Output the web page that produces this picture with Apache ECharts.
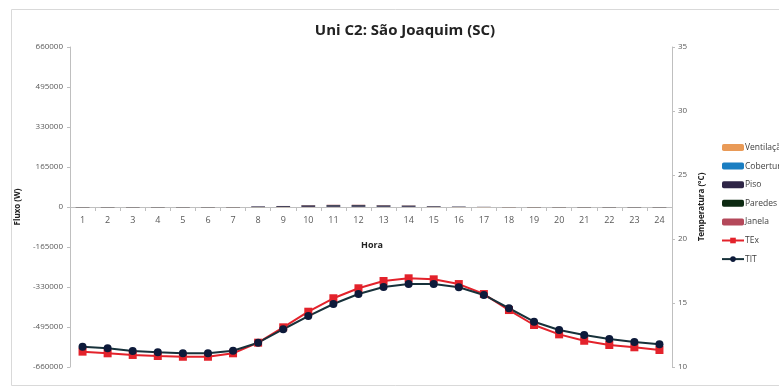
<!DOCTYPE html>
<html>
<head>
<meta charset="utf-8">
<script src="https://cdn.jsdelivr.net/npm/echarts@6/dist/echarts.min.js"></script>
<style>html,body{margin:0;padding:0;background:#fff;}#c{width:779px;height:390px;}</style>
</head>
<body>
<div id="c"></div>
<script>
const hours = ['1','2','3','4','5','6','7','8','9','10','11','12','13','14','15','16','17','18','19','20','21','22','23','24'];
const ventilacao = [-800,-800,-800,-800,-800,-800,-800,-600,-400,-300,-200,-200,-200,-200,-300,-400,-500,-600,-700,-700,-700,-800,-800,-800];
const cobertura = [-600,-600,-600,-600,-600,-600,-500,-300,200,600,900,1000,1000,900,700,400,100,-200,-400,-500,-500,-600,-600,-600];
const piso = [-500,-500,-500,-500,-500,-500,-500,2500,3500,6000,6500,6500,5500,4500,2500,1500,800,-300,-400,-400,-500,-500,-500,-500];
const paredes = [-400,-400,-400,-400,-400,-400,-400,-200,300,800,1000,1000,900,800,500,200,-100,-300,-400,-400,-400,-400,-400,-400];
const janela = [-300,-300,-300,-300,-300,-300,-300,-100,300,600,800,800,700,600,400,200,0,-200,-300,-300,-300,-300,-300,-300];
const tex = [11.2,11.07,10.94,10.86,10.8,10.8,11.07,11.9,13.1,14.32,15.37,16.15,16.72,16.93,16.85,16.48,15.7,14.45,13.28,12.55,12.05,11.72,11.54,11.33];
const tit = [11.59,11.46,11.25,11.15,11.07,11.07,11.27,11.9,12.95,13.98,14.92,15.7,16.25,16.48,16.48,16.23,15.63,14.59,13.54,12.89,12.5,12.19,11.95,11.77];

const chart = echarts.init(document.getElementById('c'));
const font = 'Open Sans';
function bar(name, data, color) {
  return {name, type:'bar', stack:'f', data, barWidth:'55%', itemStyle:{color}, yAxisIndex:0};
}
chart.setOption({
  animation:false,
  textStyle:{fontFamily:font},
  title:{text:'Uni C2: São Joaquim (SC)', left:400, textAlign:'center', top:18,
    textStyle:{fontSize:15, fontWeight:'bold', color:'#222', fontFamily:font}},
  graphic:[{type:'rect', shape:{x:11.5,y:9.5,width:800,height:376}, style:{fill:'none', stroke:'#d9d9d9', lineWidth:1}, silent:true},
    {type:'text', left:361, top:241, style:{text:'Hora', font:'bold 9px "Open Sans"', fill:'#222'}}],
  legend:{orient:'vertical', left:716, top:138, itemGap:9.6, itemWidth:22, itemHeight:7,
    textStyle:{fontSize:8.5, color:'#404040', padding:[0,0,0,-4]},
    data:['Ventilação','Cobertura','Piso','Paredes','Janela','TEx','TIT']},
  grid:{left:70, right:107, top:47, bottom:23},
  xAxis:{type:'category', data:hours, boundaryGap:true, position:'bottom', offset:-160,
    axisLine:{onZero:false, lineStyle:{color:'#bfbfbf'}},
    axisTick:{show:true, alignWithLabel:false, length:4, lineStyle:{color:'#bfbfbf'}},
    axisLabel:{fontSize:9, color:'#595959', margin:9}},
  yAxis:[
    {type:'value', min:-660000, max:660000, interval:165000,
     name:'Fluxo (W)', nameLocation:'middle', nameGap:48, nameRotate:90,
     nameTextStyle:{fontSize:8, fontWeight:'bold', color:'#222'},
     axisLine:{show:true, lineStyle:{color:'#bfbfbf'}},
     axisTick:{show:true, length:3, lineStyle:{color:'#bfbfbf'}},
     splitLine:{show:false},
     axisLabel:{fontSize:8, color:'#595959', margin:7, formatter:v=>String(v)}},
    {type:'value', min:10, max:35, interval:5, position:'right',
     name:'Temperatura (°C)', nameLocation:'middle', nameGap:22, nameRotate:90,
     nameTextStyle:{fontSize:8, fontWeight:'bold', color:'#222'},
     axisLine:{show:true, lineStyle:{color:'#bfbfbf'}},
     axisTick:{show:true, length:3, lineStyle:{color:'#bfbfbf'}},
     splitLine:{show:false},
     axisLabel:{fontSize:8, color:'#595959', margin:6}}
  ],
  series:[
    bar('Ventilação', ventilacao, '#e99a57'),
    bar('Cobertura', cobertura, '#1a7ec2'),
    bar('Piso', piso, '#2e2546'),
    bar('Paredes', paredes, '#0d2a12'),
    bar('Janela', janela, '#b4485a'),
    {name:'TEx', type:'line', yAxisIndex:1, data:tex, symbol:'rect', symbolSize:8,
     lineStyle:{color:'#e3222b', width:2}, itemStyle:{color:'#e3222b'}},
    {name:'TIT', type:'line', yAxisIndex:1, data:tit, symbol:'circle', symbolSize:8,
     lineStyle:{color:'#17313a', width:2}, itemStyle:{color:'#0d1a3a'}}
  ]
});
</script>
</body>
</html>
